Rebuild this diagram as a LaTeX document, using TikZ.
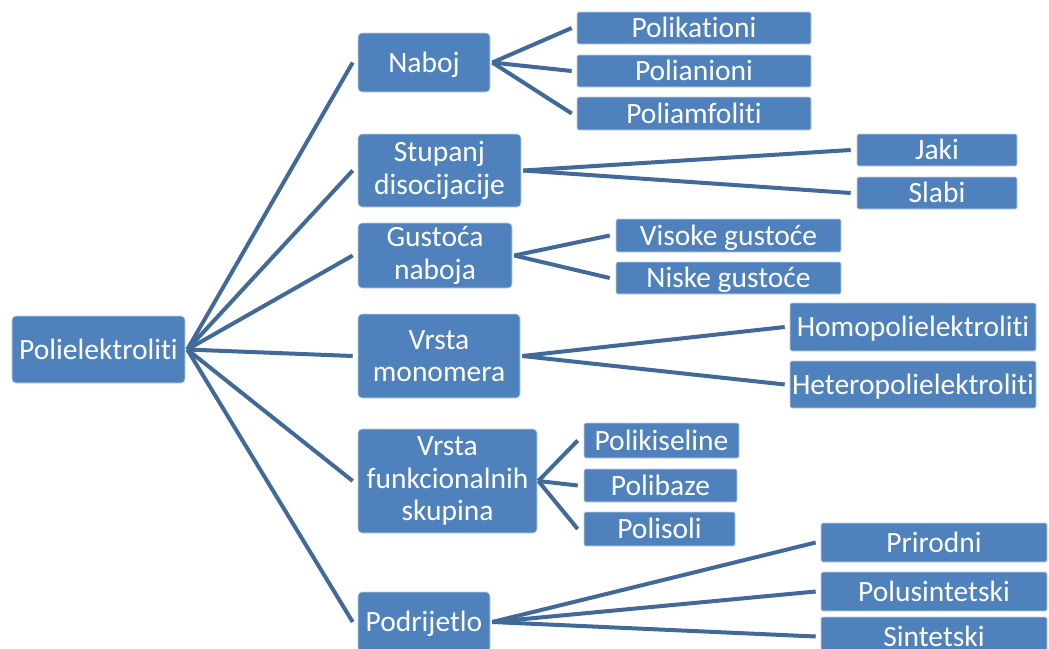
\documentclass[tikz,border=0pt]{standalone}
\usepackage{fontspec}
\setmainfont{Carlito}[Ligatures=NoCommon]
\definecolor{boxblue}{HTML}{4F81BD}
\definecolor{lineblue}{HTML}{41699A}
\definecolor{edgeblue}{HTML}{C3D3E8}
\begin{document}
\begin{tikzpicture}[x=1pt,y=-1pt,
  box/.style={fill=boxblue, draw=edgeblue, line width=0.6pt, text=white, inner sep=0pt,
    font=\fontsize{29.5}{32.5}\selectfont, align=center},
  main/.style={box, rounded corners=4pt},
  leaf/.style={box, rounded corners=1.5pt},
  one/.style={text height=23pt, text depth=3.8pt},
  conn/.style={draw=lineblue, line width=4pt}]
\useasboundingbox (0,0) rectangle (1049,648);
\clip (0,0) rectangle (1049,648);

% root
\node[main, one, minimum width=173pt, minimum height=67pt] (root) at (98.5,349.5) {Polielektroliti};

% level 1
\node[main, one, minimum width=132pt, minimum height=59pt] (naboj) at (424,62.5) {Naboj};
\node[main, minimum width=163pt, minimum height=73pt] (stupanj) at (439.5,170.5) {Stupanj\\disocijacije};
\node[main, minimum width=154pt, minimum height=65pt] (gustoca) at (435,255.5) {Gustoća\\naboja};
\node[main, minimum width=162pt, minimum height=84pt] (monomera) at (439,356) {Vrsta\\monomera};
\node[main, minimum width=179pt, minimum height=104pt] (funkc) at (447.5,481) {Vrsta\\funkcionalnih\\skupina};
\node[main, one, minimum width=132pt, minimum height=60pt] (podrijetlo) at (424,622) {Podrijetlo};

% leaves
\node[leaf, one, minimum width=234pt, minimum height=32pt] (polikationi) at (694,28) {Polikationi};
\node[leaf, one, minimum width=234pt, minimum height=32pt] (polianioni) at (694,71) {Polianioni};
\node[leaf, one, minimum width=234pt, minimum height=33pt] (poliamfoliti) at (694,113.5) {Poliamfoliti};

\node[leaf, one, minimum width=160pt, minimum height=32pt] (jaki) at (937,150) {Jaki};
\node[leaf, one, minimum width=160pt, minimum height=32pt] (slabi) at (937,193) {Slabi};

\node[leaf, one, minimum width=225pt, minimum height=33pt] (visoke) at (728.5,235.5) {Visoke gustoće};
\node[leaf, one, minimum width=225pt, minimum height=32pt] (niske) at (728.5,278) {Niske gustoće};

\node[leaf, one, minimum width=246pt, minimum height=48pt] (homo) at (913,327) {Homopolielektroliti};
\node[leaf, one, minimum width=246pt, minimum height=47pt] (hetero) at (913,384.5) {Heteropolielektroliti};

\node[leaf, one, minimum width=155pt, minimum height=35pt] (kiseline) at (661.5,440.5) {Polikiseline};
\node[leaf, one, minimum width=153pt, minimum height=33pt] (baze) at (660.5,485.5) {Polibaze};
\node[leaf, one, minimum width=151pt, minimum height=34pt] (soli) at (659.5,529) {Polisoli};

\node[leaf, one, minimum width=226pt, minimum height=39pt] (prirodni) at (934,542.5) {Prirodni};
\node[leaf, one, minimum width=226pt, minimum height=39pt] (polusint) at (934,591.5) {Polusintetski};
\node[leaf, one, minimum width=226pt, minimum height=39pt] (sint) at (934,636.5) {Sintetski};

% connectors root -> level 1
\foreach \c in {naboj,stupanj,gustoca,monomera,funkc,podrijetlo}
  \draw[conn] ([xshift=2pt]root.east) -- ([xshift=-5pt]\c.west);

% level 1 -> leaves
\foreach \c in {polikationi,polianioni,poliamfoliti}
  \draw[conn] ([xshift=2pt]naboj.east) -- ([xshift=-5pt]\c.west);
\foreach \c in {jaki,slabi}
  \draw[conn] ([xshift=2pt]stupanj.east) -- ([xshift=-6pt]\c.west);
\foreach \c in {visoke,niske}
  \draw[conn] ([xshift=2pt]gustoca.east) -- ([xshift=-6pt]\c.west);
\foreach \c in {homo,hetero}
  \draw[conn] ([xshift=2pt]monomera.east) -- ([xshift=-5pt]\c.west);
\foreach \c in {kiseline,baze,soli}
  \draw[conn] ([xshift=1pt]funkc.east) -- ([xshift=-6pt]\c.west);
\foreach \c in {prirodni,polusint,sint}
  \draw[conn] ([xshift=2pt]podrijetlo.east) -- ([xshift=-5pt]\c.west);
\end{tikzpicture}
\end{document}
